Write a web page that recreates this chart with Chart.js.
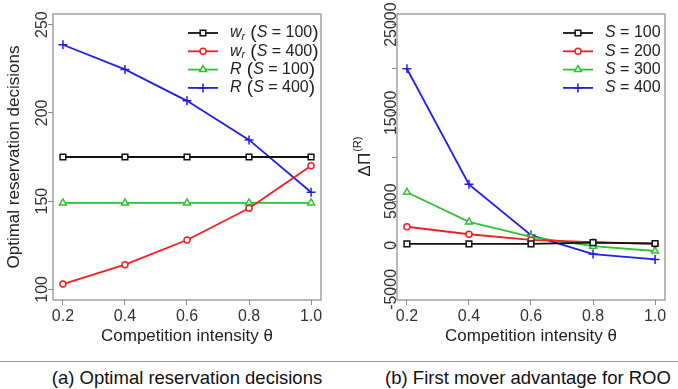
<!DOCTYPE html>
<html><head><meta charset="utf-8">
<script src="https://cdn.jsdelivr.net/npm/chart.js@4.4.1/dist/chart.umd.min.js"></script>
<style>
body{margin:0;background:#fff;width:678px;height:389px;position:relative;overflow:hidden;font-family:"Liberation Sans",Arial,sans-serif}
#left{position:absolute;left:0;top:0}
#right{position:absolute;left:340px;top:0}
.rule{position:absolute;left:0;top:361px;width:678px;height:1px;background:#9a9a9a}
.cap{position:absolute;top:368px;font-size:18.5px;line-height:20px;color:#111;white-space:nowrap;transform:translateX(-50%)}
</style></head><body>
<canvas id="left" width="340" height="350"></canvas>
<canvas id="right" width="338" height="350"></canvas>
<div class="rule"></div>
<div class="cap" style="left:187px">(a) Optimal reservation decisions</div>
<div class="cap" style="left:528px">(b) First mover advantage for ROO</div>
<script>
const theta = [0.2, 0.4, 0.6, 0.8, 1.0];
// panel (a)
const wrS100 = [175, 175, 175, 175, 175];
const wrS400 = [103, 114, 128, 146, 170];
const rS100 = [149, 149, 149, 149, 149];
const rS400 = [238.6, 224.6, 206.8, 184.7, 155];
const leftTicks = [100, 150, 200, 250];
// panel (b)
const dS100 = [150, 150, 150, 300, 200];
const dS200 = [2100, 1250, 600, 350, 150];
const dS300 = [6000, 2650, 950, -100, -650];
const dS400 = [20000, 6900, 1150, -1000, -1600];
const rightTicks = [-5000, 0, 5000, 10000, 15000, 20000, 25000];
const rightTickLabels = ['-5000', '0', '5000', '', '15000', '', '25000'];

// legend text pieces: [text, style]
const leftLegend = [
  [['w', 'i'], ['r', 'sub'], [' (', 'big'], ['S', 'i'], [' = 100', 'n'], [')', 'big']],
  [['w', 'i'], ['r', 'sub'], [' (', 'big'], ['S', 'i'], [' = 400', 'n'], [')', 'big']],
  [['R', 'i'], [' (', 'big'], ['S', 'i'], [' = 100', 'n'], [')', 'big']],
  [['R', 'i'], [' (', 'big'], ['S', 'i'], [' = 400', 'n'], [')', 'big']]
];
const rightLegend = [
  [['S', 'i'], [' = 100', 'n']],
  [['S', 'i'], [' = 200', 'n']],
  [['S', 'i'], [' = 300', 'n']],
  [['S', 'i'], [' = 400', 'n']]
];

const FONT = '"Liberation Sans", Arial, sans-serif';
const colors = ['#111111', '#f02020', '#30c030', '#1f1fe6'];
const styles = ['rect', 'circle', 'triangle', 'cross'];
const radii = [4, 3, 4, 4.5];

function series(vals, i) {
  return {
    data: theta.map((t, k) => ({x: t, y: vals[k]})),
    borderColor: colors[i],
    backgroundColor: '#fff',
    borderWidth: 1.8,
    pointStyle: styles[i],
    pointRadius: radii[i],
    pointBorderWidth: 1.5,
    pointBackgroundColor: '#fff',
    pointBorderColor: colors[i]
  };
}

const boxAndLegend = {
  id: 'boxAndLegend',
  afterDraw(chart, args, opts) {
    const {ctx, chartArea: a} = chart;
    ctx.save();
    ctx.strokeStyle = '#8a8a8a';
    ctx.lineWidth = 1.2;
    ctx.strokeRect(a.left, a.top, a.right - a.left, a.bottom - a.top);

    opts.items.forEach((parts, i) => {
      const ds = chart.data.datasets[i];
      const y = a.top + 19 + i * 18.3;
      const x0 = a.right - opts.right;
      ctx.strokeStyle = ds.borderColor;
      ctx.lineWidth = ds.borderWidth;
      ctx.beginPath(); ctx.moveTo(x0, y); ctx.lineTo(x0 + 30, y); ctx.stroke();
      ctx.fillStyle = '#fff';
      ctx.lineWidth = ds.pointBorderWidth;
      Chart.helpers.drawPoint(ctx, {pointStyle: ds.pointStyle, radius: ds.pointRadius, borderWidth: ds.pointBorderWidth, rotation: 0}, x0 + 15, y);
      let tx = x0 + 42;
      ctx.fillStyle = '#222';
      ctx.textBaseline = 'middle';
      ctx.textAlign = 'left';
      parts.forEach(([txt, st]) => {
        let size = 16, dy = 0, style = '';
        if (st === 'i') style = 'italic ';
        if (st === 'sub') { style = 'italic '; size = 10.5; dy = 4; }
        if (st === 'big') size = 19;
        ctx.font = style + size + 'px ' + FONT;
        ctx.fillText(txt, tx, y + dy);
        tx += ctx.measureText(txt).width;
      });
    });

    if (opts.deltaTitle) {
      ctx.translate(23, (a.top + a.bottom) / 2);
      ctx.rotate(-Math.PI / 2);
      ctx.fillStyle = '#222';
      ctx.textBaseline = 'middle';
      ctx.font = '17px ' + FONT;
      const w1 = ctx.measureText('ΔΠ').width;
      ctx.font = '11px ' + FONT;
      const w2 = ctx.measureText('(R)').width;
      let sx = -(w1 + w2) / 2;
      ctx.font = '17px ' + FONT;
      ctx.fillText('ΔΠ', sx, 2);
      ctx.font = '11px ' + FONT;
      ctx.fillText('(R)', sx + w1 + 1, -5);
    }
    ctx.restore();
  }
};

function makeChart(id, datasets, yMin, yMax, yTicks, yLabels, yPad, yTitle, legend, legendRight, rightPad) {
  const canvas = document.getElementById(id);
  canvas.chart = new Chart(canvas.getContext('2d'), {
    type: 'line',
    data: {datasets},
    plugins: [boxAndLegend],
    options: {
      responsive: false,
      animation: false,
      layout: {padding: {left: 0, top: 14, right: rightPad, bottom: 0}},
      plugins: {
        legend: {display: false},
        tooltip: {enabled: false},
        boxAndLegend: {items: legend, right: legendRight, deltaTitle: !yTitle}
      },
      scales: {
        x: {
          type: 'linear',
          min: 0.168,
          max: 1.032,
          afterFit: s => { s.height = 50; },
          afterBuildTicks: s => { s.ticks = theta.map(v => ({value: v})); },
          grid: {drawOnChartArea: false, drawTicks: true, tickLength: 5, color: '#8a8a8a'},
          border: {display: false},
          ticks: {
            autoSkip: false, maxRotation: 0, padding: 2, color: '#333',
            font: {family: FONT, size: 16},
            callback: v => v.toFixed(1)
          },
          title: {display: true, text: 'Competition intensity θ', color: '#222',
                  font: {family: FONT, size: 17}, padding: {top: 0, bottom: 3}}
        },
        y: {
          min: yMin,
          max: yMax,
          afterFit: s => { s.width = id === 'left' ? 53 : 57; },
          afterBuildTicks: s => { s.ticks = yTicks.map(v => ({value: v})); },
          grid: {drawOnChartArea: false, drawTicks: true, tickLength: 5, color: '#8a8a8a'},
          border: {display: false},
          ticks: {
            autoSkip: false, minRotation: 90, maxRotation: 90, crossAlign: 'center',
            padding: yPad, color: '#333',
            font: {family: FONT, size: 16},
            callback: (v) => yLabels ? yLabels[yTicks.indexOf(v)] : String(v)
          },
          title: {display: !!yTitle, text: yTitle || '', color: '#222',
                  font: {family: FONT, size: 17}, padding: {top: 4, bottom: 0}}
        }
      }
    }
  });
}

makeChart('left',
  [series(wrS100, 0), series(wrS400, 1), series(rS100, 2), series(rS400, 3)],
  94, 256, leftTicks, null, -8, 'Optimal reservation decisions', leftLegend, 133, 19);

makeChart('right',
  [series(dS100, 0), series(dS200, 1), series(dS300, 2), series(dS400, 3)],
  -6200, 26200, rightTicks, rightTickLabels, -22, null, rightLegend, 102, 13);
</script>
</body></html>
